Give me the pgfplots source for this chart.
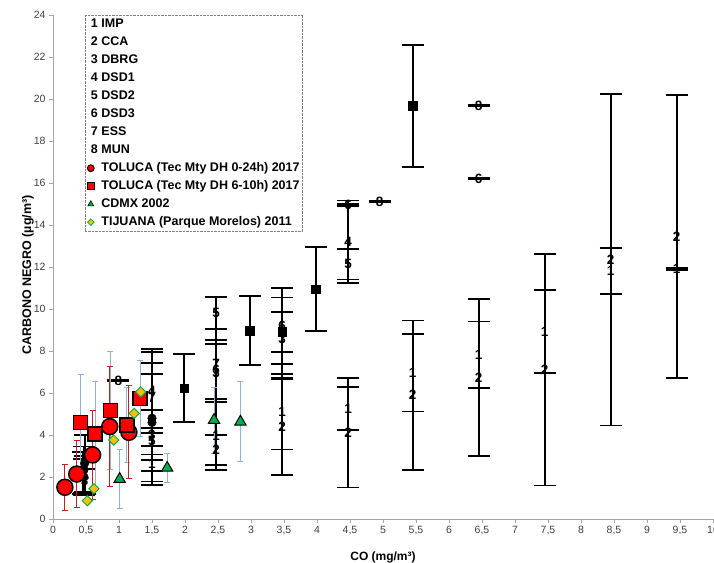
\documentclass[border=0pt]{standalone}
\usepackage{fontspec}
\setmainfont{Liberation Sans}
\usepackage{pgfplots}
\pgfplotsset{compat=1.18}
\definecolor{tred}{HTML}{FF0000}
\definecolor{barred}{HTML}{C81E1E}
\definecolor{barblue}{HTML}{8DB3E2}
\definecolor{tgreen}{HTML}{00B050}
\definecolor{tgold}{HTML}{FFC000}
\newcommand\digitfont{\bfseries\fontsize{13.5}{13.5}\selectfont}
\newcommand\legfont{\bfseries\fontsize{12.5}{14}\selectfont}
\newcommand\legdigit[1]{\addlegendimage{legend image code/.code={\node[solid, inner sep=0pt, font=\legfont] at (0pt,0pt) {#1};}}}
\pgfplotsset{
  blackbar/.style={only marks, black,
    error bars/y dir=both, error bars/y explicit,
    error bars/error bar style={line width=1.8pt, black, solid},
    error bars/error mark options={rotate=90, mark size=11pt, line width=1.8pt, black, solid}},
  dig/.style={blackbar, mark=text, text mark={#1}, text mark as node=true,
    text mark style={font=\digitfont, inner sep=0pt}, mark options={black}},
  thinbar/.style={only marks, mark=none,
    error bars/y dir=both, error bars/y explicit,
    error bars/error bar style={line width=1pt, #1, solid},
    error bars/error mark options={rotate=90, mark size=3pt, line width=1pt, #1, solid}},
}
\begin{document}
\begin{tikzpicture}[x=1pt,y=1pt]
\useasboundingbox (0,0) rectangle (714,562);
\begin{axis}[
  at={(53pt,43pt)}, anchor=south west,
  scale only axis, width=660pt, height=504pt,
  xmin=0, xmax=10, ymin=0, ymax=24,
  xtick={0,0.5,...,10}, ytick={0,2,...,24},
  axis x line=bottom, axis y line=left,
  axis line style={-, draw=gray!70},
  tick style={draw=gray!70, line width=0.6pt},
  tick align=outside, major tick length=4pt,
  /pgf/number format/assume math mode=true,
  /pgf/number format/use comma,
  ticklabel style={font=\fontsize{10.5}{12}\selectfont, text=black!75},
  every axis y label/.style={at={(axis description cs:-0.0379,0.484)}, rotate=90, anchor=center, font=\bfseries\fontsize{12.5}{14}\selectfont},
  every axis x label/.style={at={(axis description cs:0.5,0)}, yshift=-38pt, anchor=center, font=\bfseries\fontsize{12}{14}\selectfont},
  ylabel={CARBONO NEGRO (µg/m³)},
  xlabel={CO (mg/m³)},
  legend style={at={(0.048,1)}, anchor=north west, draw=gray, densely dotted,
    font=\legfont, cells={anchor=west}, inner sep=2pt, row sep=4pt,
    nodes={inner sep=1pt, text height=9pt, text depth=3pt},
    /tikz/every odd column/.append style={column sep=2.5pt}},
  clip=false,
]
\legdigit{1}\addlegendentry{IMP}
\legdigit{2}\addlegendentry{CCA}
\legdigit{3}\addlegendentry{DBRG}
\legdigit{4}\addlegendentry{DSD1}
\legdigit{5}\addlegendentry{DSD2}
\legdigit{6}\addlegendentry{DSD3}
\legdigit{7}\addlegendentry{ESS}
\legdigit{8}\addlegendentry{MUN}
\addlegendimage{legend image code/.code={\draw[solid, draw=black, line width=1pt, fill=tred] (0pt,0pt) circle (3.4pt);}}
\addlegendentry{TOLUCA (Tec Mty DH 0-24h) 2017}
\addlegendimage{legend image code/.code={\draw[solid, draw=black, line width=1pt, fill=tred] (-3.3pt,-3.3pt) rectangle (3.3pt,3.3pt);}}
\addlegendentry{TOLUCA (Tec Mty DH 6-10h) 2017}
\addlegendimage{legend image code/.code={\draw[solid, black, fill=tgreen, mark size=3.5pt, line width=0.6pt] plot[mark=triangle*] coordinates {(0pt,0pt)};}}
\addlegendentry{CDMX 2002}
\addlegendimage{legend image code/.code={\draw[solid, tgreen, fill=tgold, line width=0.8pt, rotate=45] (-2.3pt,-2.3pt) rectangle (2.3pt,2.3pt);}}
\addlegendentry{TIJUANA (Parque Morelos) 2011}

% ---- black series (unlabeled squares / circles)
\addplot[blackbar, mark=square*, mark size=4.3pt, forget plot] table[x=x,y=y,y error=e] {
x y e
1.985 6.22 1.62
2.98 8.97 1.65
3.98 10.94 2.0
5.45 19.67 2.9
3.47 8.92 0.95
};
\addplot[blackbar, mark=*, mark size=4.3pt, forget plot] table[x=x,y=y,y error=e] {
x y e
1.50 4.80 3.17
1.50 4.60 2.30
0.48 2.65 1.35
0.47 2.35 1.10
0.47 2.00 0.85
};
% ---- black digit series
\addplot[dig=1, forget plot] table[x=x,y=y,y error=e] {
x y e
0.49 2.10 0.90
1.50 2.64 0.85
2.47 3.95 1.62
3.47 5.11 1.80
4.47 5.26 1.02
5.45 6.97 1.85
6.45 7.81 1.59
7.45 8.92 1.97
8.45 11.82 1.10
9.45 11.90 0.05
};
\addplot[dig=2, forget plot] table[x=x,y=y,y error=e] {
x y e
0.46 2.20 1.00
2.47 3.28 0.72
3.47 4.40 2.30
4.47 4.10 2.60
5.45 5.90 3.55
6.45 6.73 3.73
7.45 7.10 5.50
8.45 12.35 7.90
9.45 13.45 6.75
};
\addplot[dig=3, forget plot] table[x=x,y=y,y error=e] {
x y e
0.48 1.80 0.60
1.50 4.00 1.19
2.47 6.95 1.40
3.47 8.60 1.95
};
\addplot[dig=4, forget plot] table[x=x,y=y,y error=e] {
x y e
1.50 6.10 2.00
4.47 13.20 1.97
};
\addplot[dig=5, forget plot] table[x=x,y=y,y error=e] {
x y e
1.50 3.70 0.63
2.47 9.83 0.76
4.47 12.13 0.73
};
\addplot[dig=6, forget plot] table[x=x,y=y,y error=e] {
x y e
2.47 7.10 1.41
3.47 9.19 1.80
4.47 14.95 0.05
6.45 16.22 0.03
};
\addplot[dig=7, forget plot] table[x=x,y=y,y error=e] {
x y e
1.50 5.75 1.66
2.47 7.37 1.67
};
\addplot[dig=8, forget plot] table[x=x,y=y,y error=e] {
x y e
0.99 6.59 0.03
4.95 15.11 0.03
6.45 19.67 0.03
};
% ---- thin error bars of colored series
\addplot[thinbar=barblue, forget plot] table[x=x,y=y,y error=e] {
x y e
1.01 1.90 1.40
1.73 2.43 0.70
2.44 4.71 1.57
2.84 4.63 1.90
};
\addplot[thinbar=barblue, forget plot] table[x=x,y=y,y error=e] {
x y e
0.42 4.60 2.30
0.64 4.05 2.50
0.87 5.16 2.80
1.12 4.48 1.80
1.32 5.75 1.80
};
\addplot[thinbar=barred, forget plot] table[x=x,y=y,y error=e] {
x y e
0.18 1.51 1.10
0.36 2.14 1.60
0.60 3.05 2.10
0.86 4.40 2.86
1.15 4.13 2.22
};
% ---- colored markers
\addplot[only marks, mark=triangle*, mark size=6.5pt, mark options={fill=tgreen, draw=black, line width=1pt}, forget plot] table[x=x,y=y] {
x y
1.01 1.90
1.73 2.43
2.44 4.71
2.84 4.63
};
\addplot[only marks, mark=*, mark size=8pt, mark options={fill=tred, draw=black, line width=1.5pt}, forget plot] table[x=x,y=y] {
x y
0.18 1.51
0.36 2.14
0.60 3.05
0.86 4.40
1.15 4.13
};
\addplot[only marks, mark=square*, mark size=7pt, mark options={fill=tred, draw=black, line width=1.5pt}, forget plot] table[x=x,y=y] {
x y
0.42 4.60
0.64 4.05
0.87 5.16
1.12 4.48
1.32 5.75
};
\addplot[only marks, mark=square*, mark size=3.6pt, mark options={fill=tgold, draw=tgreen, line width=1pt, rotate=45}, forget plot] table[x=x,y=y] {
x y
0.52 0.87
0.62 1.44
0.92 3.76
1.23 5.03
1.33 6.05
};
\end{axis}
\end{tikzpicture}
\end{document}
